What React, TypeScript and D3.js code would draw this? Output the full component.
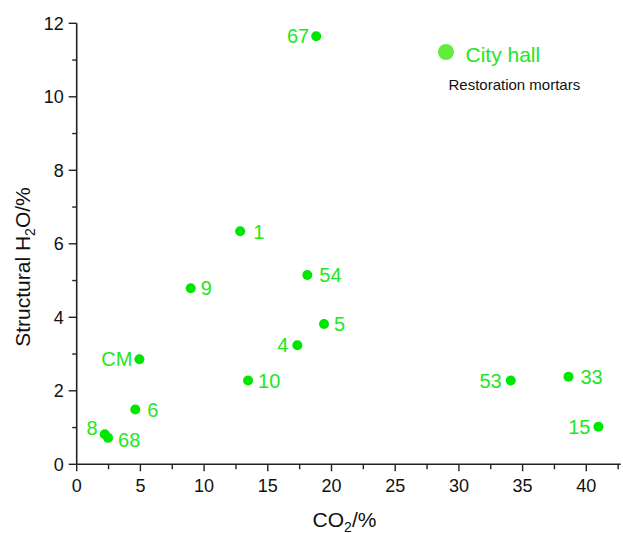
import React from "react";
import * as d3 from "d3";

const sampleIds = ["67", "1", "9", "54", "5", "4", "CM", "10", "6", "8", "68", "53", "33", "15"];
const co2Values = [18.8, 12.83, 8.95, 18.1, 19.41, 17.32, 4.92, 13.45, 4.6, 2.2, 2.46, 34.07, 38.6, 40.95];
const h2oValues = [11.65, 6.34, 4.79, 5.15, 3.82, 3.24, 2.86, 2.28, 1.49, 0.82, 0.72, 2.28, 2.38, 1.02];
const labelSides = ["l", "r", "r", "r", "r", "l", "l", "r", "r", "l", "r", "l", "r", "l"];

const xTicks = [0, 5, 10, 15, 20, 25, 30, 35, 40];
const xMinorTicks = [2.5, 7.5, 12.5, 17.5, 22.5, 27.5, 32.5, 37.5, 42.5];
const yTicks = [0, 2, 4, 6, 8, 10, 12];
const yMinorTicks = [1, 3, 5, 7, 9, 11];

const legendTitle = "City hall";
const legendSubtitle = "Restoration mortars";

const W = 623;
const H = 533;
const font = "'Liberation Sans', Arial, Helvetica, sans-serif";
const dotColor = "#00e600";
const labelColor = "#22e622";
const axisColor = "#222";

// per-label fine offsets (dx, dy) relative to default placement
const labelNudges: [number, number][] = [
  [0, 0], [3, 1], [0, 0], [2, 0], [0, 0], [-2, 0], [0, 0], [0, 0], [2, 0], [0, -6], [0, 2], [-2, 0], [2, 0], [-1, 0],
];

export default function App() {
  const x = d3.scaleLinear().domain([0, 42.7]).range([76.7, 620.7]);
  const y = d3.scaleLinear().domain([0, 12]).range([464.3, 23.3]);
  const x0 = x(0);
  const y0 = y(0);

  return (
    <svg
      width={W}
      height={H}
      style={{ position: "absolute", left: 0, top: 0, background: "#fff" }}
      fontFamily={font}
    >
      {/* axes */}
      <line x1={x0} x2={x0} y1={y(12)} y2={y0} stroke={axisColor} strokeWidth={1.6} />
      <line x1={x0} x2={x.range()[1]} y1={y0} y2={y0} stroke={axisColor} strokeWidth={1.6} />
      {yTicks.map((t) => (
        <g key={"yt" + t}>
          <line x1={x0 - 8} x2={x0} y1={y(t)} y2={y(t)} stroke={axisColor} strokeWidth={1.4} />
          <text x={x0 - 13} y={y(t)} dy="0.36em" textAnchor="end" fontSize={18} fill="#111">
            {t}
          </text>
        </g>
      ))}
      {yMinorTicks.map((t) => (
        <line key={"ym" + t} x1={x0 - 4.5} x2={x0} y1={y(t)} y2={y(t)} stroke={axisColor} strokeWidth={1.4} />
      ))}
      {xTicks.map((t) => (
        <g key={"xt" + t}>
          <line x1={x(t)} x2={x(t)} y1={y0} y2={y0 + 7} stroke={axisColor} strokeWidth={1.4} />
          <text x={x(t)} y={y0 + 27.5} textAnchor="middle" fontSize={18} fill="#111">
            {t}
          </text>
        </g>
      ))}
      {xMinorTicks.map((t) => (
        <line key={"xm" + t} x1={x(t)} x2={x(t)} y1={y0} y2={y0 + 5} stroke={axisColor} strokeWidth={1.4} />
      ))}

      {/* axis titles */}
      <text x={344.5} y={527} textAnchor="middle" fontSize={21} fill="#111">
        CO
        <tspan fontSize={14} dy={5}>2</tspan>
        <tspan dy={-5}>/%</tspan>
      </text>
      <text
        transform={`translate(30,267) rotate(-90)`}
        textAnchor="middle"
        fontSize={21}
        fill="#111"
      >
        Structural H
        <tspan fontSize={14} dy={5}>2</tspan>
        <tspan dy={-5}>O/%</tspan>
      </text>

      {/* points */}
      {sampleIds.map((id, i) => {
        const cx = x(co2Values[i]);
        const cy = y(h2oValues[i]);
        const left = labelSides[i] === "l";
        const [ndx, ndy] = labelNudges[i];
        return (
          <g key={id}>
            <circle cx={cx} cy={cy} r={5} fill={dotColor} />
            <text
              x={cx + (left ? -7 : 10) + ndx}
              y={cy + 7 + ndy}
              textAnchor={left ? "end" : "start"}
              fontSize={20}
              fill={labelColor}
            >
              {id}
            </text>
          </g>
        );
      })}

      {/* legend */}
      <circle cx={446} cy={52} r={8} fill="#62ec3e" />
      <text x={465.5} y={62} fontSize={21} fill={labelColor}>
        {legendTitle}
      </text>
      <text x={448.5} y={90} fontSize={15} fill="#111">
        {legendSubtitle}
      </text>
    </svg>
  );
}
